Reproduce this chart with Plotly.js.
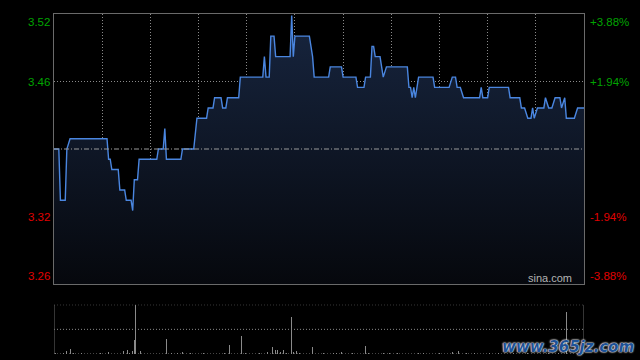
<!DOCTYPE html>
<html>
<head>
<meta charset="utf-8">
<script src="https://cdn.plot.ly/plotly-3.0.1.min.js"></script>
<style>html,body{margin:0;padding:0;background:#000;}#chart{width:640px;height:360px;}</style>
</head>
<body>
<div id="chart"></div>
<script>
// ---- data (minutes from open, HK session 5.5h) ----
const prevClose = 3.39;
const pctLevels = [3.88, 1.94, -1.94, -3.88];
const priceLabels = ["3.52", "3.46", "3.32", "3.26"];
const pctLabels = ["+3.88%", "+1.94%", "-1.94%", "-3.88%"];

const times = [0,3,4,7,8,10,33,34,35,36,40,41,44,45,48,49,50,52,53,64,65,68,69,70,79,80,87,89,95,96,99,100,104,105,107,108,115,116,130,131,132,134,135,137,138,147,148,149,150,159,161,162,171,172,179,180,188,189,193,194,197,198,199,200,203,205,207,220,221,222,223,224,225,227,236,237,246,248,250,251,253,255,265,266,267,270,271,283,284,290,291,293,295,297,298,299,301,305,306,308,310,312,315,316,318,319,324,326,330];
const prices = [3.39,3.39,3.34,3.34,3.39,3.40,3.40,3.38,3.38,3.37,3.37,3.35,3.35,3.34,3.34,3.33,3.36,3.36,3.38,3.38,3.39,3.39,3.41,3.38,3.38,3.39,3.39,3.42,3.42,3.43,3.43,3.44,3.44,3.43,3.43,3.44,3.44,3.46,3.46,3.48,3.46,3.46,3.50,3.50,3.48,3.48,3.52,3.48,3.50,3.50,3.48,3.46,3.46,3.47,3.47,3.46,3.46,3.45,3.45,3.46,3.46,3.49,3.49,3.48,3.48,3.46,3.47,3.47,3.45,3.45,3.44,3.45,3.44,3.46,3.46,3.45,3.45,3.46,3.46,3.45,3.45,3.44,3.44,3.45,3.44,3.44,3.45,3.45,3.44,3.44,3.43,3.43,3.42,3.42,3.43,3.42,3.43,3.43,3.44,3.43,3.43,3.44,3.44,3.43,3.44,3.42,3.42,3.43,3.43];

const volTimes = [1,2,5,6,8,10,12,14,17,20,23,26,29,31,34,38,42,43,46,47,49,50,51,54,56,58,61,66,70,73,75,77,80,83,85,91,93,99,102,106,109,112,117,119,122,124,127,128,132,133,136,138,139,141,143,145,148,149,151,153,156,161,165,168,170,174,176,179,183,186,191,193,194,196,201,205,209,211,214,217,221,227,230,233,240,243,248,252,257,260,262,271,274,277,280,286,288,292,295,303,308,311,314,319,322,325,328];
const volumes = [15,10,120,15,60,100,15,10,15,10,15,10,15,10,40,15,10,60,80,15,60,280,1000,60,15,10,15,10,300,15,10,15,40,10,15,10,15,60,10,15,180,10,360,15,30,10,40,15,40,50,140,80,80,40,80,15,750,40,60,15,10,140,30,15,10,15,30,40,10,15,10,130,160,15,10,30,15,10,15,10,80,30,15,10,15,10,50,60,15,10,15,30,10,15,10,15,10,50,15,10,15,10,15,850,10,15,10];

// ---- derived ----
const yMax = prevClose * (1 + pctLevels[0] / 100);
const yMin = prevClose * (1 + pctLevels[3] / 100);
const gridUp = prevClose * (1 + pctLevels[1] / 100);
const gridDn = prevClose * (1 + pctLevels[2] / 100);
const levelVals = [yMax, gridUp, gridDn, yMin];
const volMax = Math.max(...volumes);

const GREEN = '#00a400', RED = '#e00000';
const BORDER = '#6a6a6a', GRID = '#8a8a8a';
const FONT = 'Liberation Sans, Arial, sans-serif';

const annotations = [];
levelVals.forEach((v, i) => {
  const col = i < 2 ? GREEN : RED;
  const ya = i === 0 ? 'top' : (i === 3 ? 'bottom' : 'middle');
  annotations.push({xref: 'paper', yref: 'y', x: 0, y: v, xanchor: 'right', yanchor: ya, xshift: -2,
    text: priceLabels[i], showarrow: false, font: {family: FONT, size: 11.5, color: col}});
  annotations.push({xref: 'paper', yref: 'y', x: 1, y: v, xanchor: 'left', yanchor: ya, xshift: 4,
    text: pctLabels[i], showarrow: false, font: {family: FONT, size: 11.5, color: col}});
});
annotations.push({xref: 'paper', yref: 'y', x: 1, y: yMin, xanchor: 'right', yanchor: 'bottom', xshift: -10, yshift: -2,
  text: 'sina.com', showarrow: false, font: {family: FONT, size: 11, color: '#b4b4b4'}});
annotations.push({xref: 'paper', yref: 'paper', x: 1, y: 0, xanchor: 'right', yanchor: 'bottom', xshift: 52, yshift: -4,
  text: '<i><b>www.365jz.com</b></i>', showarrow: false,
  font: {family: 'DejaVu Sans, sans-serif', size: 15, color: '#1e5296', shadow: '0 0 2px #e8e8e8, 0 0 2px #e8e8e8, 0 0 1px #fff'}});

const traces = [
  {x: times, y: prices, type: 'scatter', mode: 'lines', xaxis: 'x', yaxis: 'y',
   line: {color: '#4a86e0', width: 1.4},
   fill: 'tozeroy',
   fillgradient: {type: 'vertical', start: yMin, stop: 3.52,
     colorscale: [[0, '#06080d'], [1, '#17253f']]},
   hoverinfo: 'skip'},
  {x: volTimes, y: volumes, type: 'bar', xaxis: 'x2', yaxis: 'y2',
   width: 0.55, marker: {color: '#8a8a8a', line: {width: 0}}, hoverinfo: 'skip'}
];

const shapes = [
  {type: 'line', xref: 'x', yref: 'y', x0: 0, x1: 330, y0: prevClose, y1: prevClose,
   line: {color: '#9a9a9a', width: 1, dash: '5px,2px,1px,2px'}},
  // volume panel frame
  {type: 'line', xref: 'x2', yref: 'y2', x0: 0, x1: 330, y0: volMax, y1: volMax, line: {color: GRID, width: 1, dash: '1px,2px'}},
  {type: 'line', xref: 'x2', yref: 'y2', x0: 0, x1: 330, y0: volMax / 2, y1: volMax / 2, line: {color: GRID, width: 1, dash: '1px,2px'}},
  {type: 'line', xref: 'x2', yref: 'y2', x0: 0, x1: 330, y0: 0, y1: 0, line: {color: GRID, width: 1, dash: '1px,2px'}},
  {type: 'line', xref: 'x2', yref: 'y2', x0: 0, x1: 0, y0: 0, y1: volMax, line: {color: BORDER, width: 1}},
  {type: 'line', xref: 'x2', yref: 'y2', x0: 330, x1: 330, y0: 0, y1: volMax, line: {color: BORDER, width: 1}}
];

const layout = {
  width: 640, height: 360,
  paper_bgcolor: '#000', plot_bgcolor: '#000',
  margin: {l: 54, r: 56, t: 14, b: 6, pad: 0},
  showlegend: false,
  font: {family: FONT, color: '#aaa'},
  xaxis: {domain: [0, 1], range: [0, 330], tickvals: [30,60,90,120,150,180,210,240,270,300],
    showticklabels: false, ticks: '', showgrid: true, gridcolor: GRID, griddash: '1px,2px', gridwidth: 1,
    showline: true, linecolor: BORDER, linewidth: 1, mirror: true, zeroline: false, fixedrange: true},
  yaxis: {domain: [0.2059, 1], range: [yMin, yMax], tickvals: [gridUp, gridDn],
    showticklabels: false, ticks: '', showgrid: true, gridcolor: GRID, griddash: '1px,2px', gridwidth: 1,
    showline: true, linecolor: BORDER, linewidth: 1, mirror: true, zeroline: false, fixedrange: true},
  xaxis2: {domain: [0, 1], range: [0, 330], anchor: 'y2', showticklabels: false, ticks: '', showgrid: false,
    showline: false, zeroline: false, fixedrange: true},
  yaxis2: {domain: [0, 0.145], range: [0, volMax], anchor: 'x2', showticklabels: false, ticks: '', showgrid: false,
    showline: false, zeroline: false, fixedrange: true},
  shapes: shapes,
  annotations: annotations,
  bargap: 0
};

Plotly.newPlot('chart', traces, layout, {displayModeBar: false, staticPlot: true});
</script>
</body>
</html>
